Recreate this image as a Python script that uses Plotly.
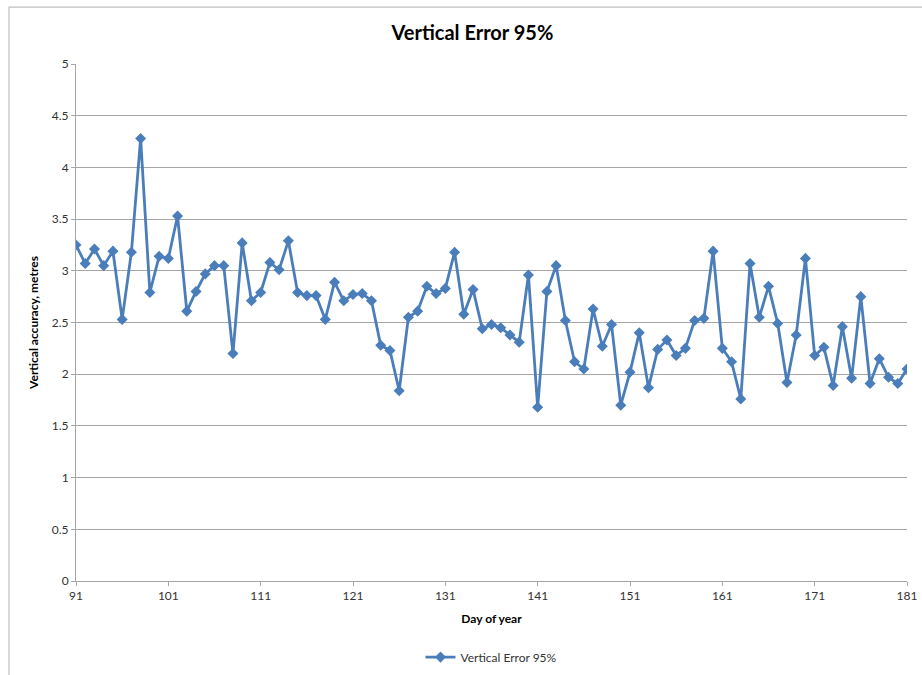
import plotly.graph_objects as go

days = list(range(91, 182))
vertical_error_95 = [
    3.25, 3.07, 3.21, 3.05, 3.19, 2.53, 3.18, 4.28, 2.79, 3.14,
    3.12, 3.53, 2.61, 2.80, 2.97, 3.05, 3.05, 2.20, 3.27, 2.71,
    2.79, 3.08, 3.01, 3.29, 2.79, 2.76, 2.76, 2.53, 2.89, 2.71,
    2.77, 2.78, 2.71, 2.28, 2.23, 1.84, 2.55, 2.61, 2.85, 2.78,
    2.83, 3.18, 2.58, 2.82, 2.44, 2.48, 2.45, 2.38, 2.31, 2.96,
    1.68, 2.80, 3.05, 2.52, 2.12, 2.05, 2.63, 2.27, 2.48, 1.70,
    2.02, 2.40, 1.87, 2.24, 2.33, 2.18, 2.25, 2.52, 2.54, 3.19,
    2.25, 2.12, 1.76, 3.07, 2.55, 2.85, 2.49, 1.92, 2.38, 3.12,
    2.18, 2.26, 1.89, 2.46, 1.96, 2.75, 1.91, 2.15, 1.97, 1.91,
    2.05,
]
x_ticks = list(range(91, 182, 10))
y_ticks = [0, 0.5, 1, 1.5, 2, 2.5, 3, 3.5, 4, 4.5, 5]
y_tick_text = ["0", "0.5", "1", "1.5", "2", "2.5", "3", "3.5", "4", "4.5", "5"]

FONT = "Lato, 'Open Sans', sans-serif"
BLUE = "#4a7ebb"

fig = go.Figure()
fig.add_trace(go.Scatter(
    x=days, y=vertical_error_95, mode="lines+markers",
    name="Vertical Error 95%",
    line=dict(color=BLUE, width=2.8),
    marker=dict(symbol="diamond", size=8.5, color=BLUE),
))

fig.update_layout(
    width=930, height=683,
    margin=dict(l=76, r=23, t=64, b=101),
    paper_bgcolor="white", plot_bgcolor="white",
    font=dict(family=FONT, size=12, color="#333333"),
    title=dict(text="<b>Vertical Error 95%</b>", x=0.508, xanchor="center",
               y=0.951, yanchor="middle",
               font=dict(family=FONT, size=20, color="#000000")),
    xaxis=dict(range=[91, 181], tickvals=x_ticks, ticktext=[str(t) for t in x_ticks],
               showgrid=False, zeroline=False, showline=True, linecolor="#a6a6a6",
               linewidth=1, ticks="outside", ticklen=4, tickcolor="#a6a6a6",
               tickfont=dict(size=12, color="#333333"),
               title=dict(text="<b>Day of year</b>", font=dict(size=12, color="#000000"),
                          standoff=12)),
    yaxis=dict(range=[0, 5], tickvals=y_ticks, ticktext=y_tick_text,
               showgrid=True, gridcolor="#a6a6a6", gridwidth=1,
               zeroline=False, showline=True, linecolor="#a6a6a6", linewidth=1,
               ticks="outside", ticklen=4, tickcolor="#a6a6a6",
               tickfont=dict(size=12, color="#333333"),
               title=dict(text="<b>Vertical accuracy, metres</b>",
                          font=dict(size=12, color="#000000"), standoff=10)),
    showlegend=True,
    legend=dict(orientation="h", x=0.5, xanchor="center", y=-0.145, yanchor="middle",
                font=dict(size=12, color="#333333"), bgcolor="rgba(0,0,0,0)"),
    shapes=[dict(type="rect", xref="paper", yref="paper",
                 x0=-0.0806, x1=1.2, y0=-0.5, y1=1.110,
                 line=dict(color="#bfbfbf", width=1.2), fillcolor="rgba(0,0,0,0)",
                 layer="below")],
)

fig.write_html("out.html",
               config={"displayModeBar": False, "responsive": False},
               post_script="document.body.style.margin='0';document.body.style.overflow='hidden';")
